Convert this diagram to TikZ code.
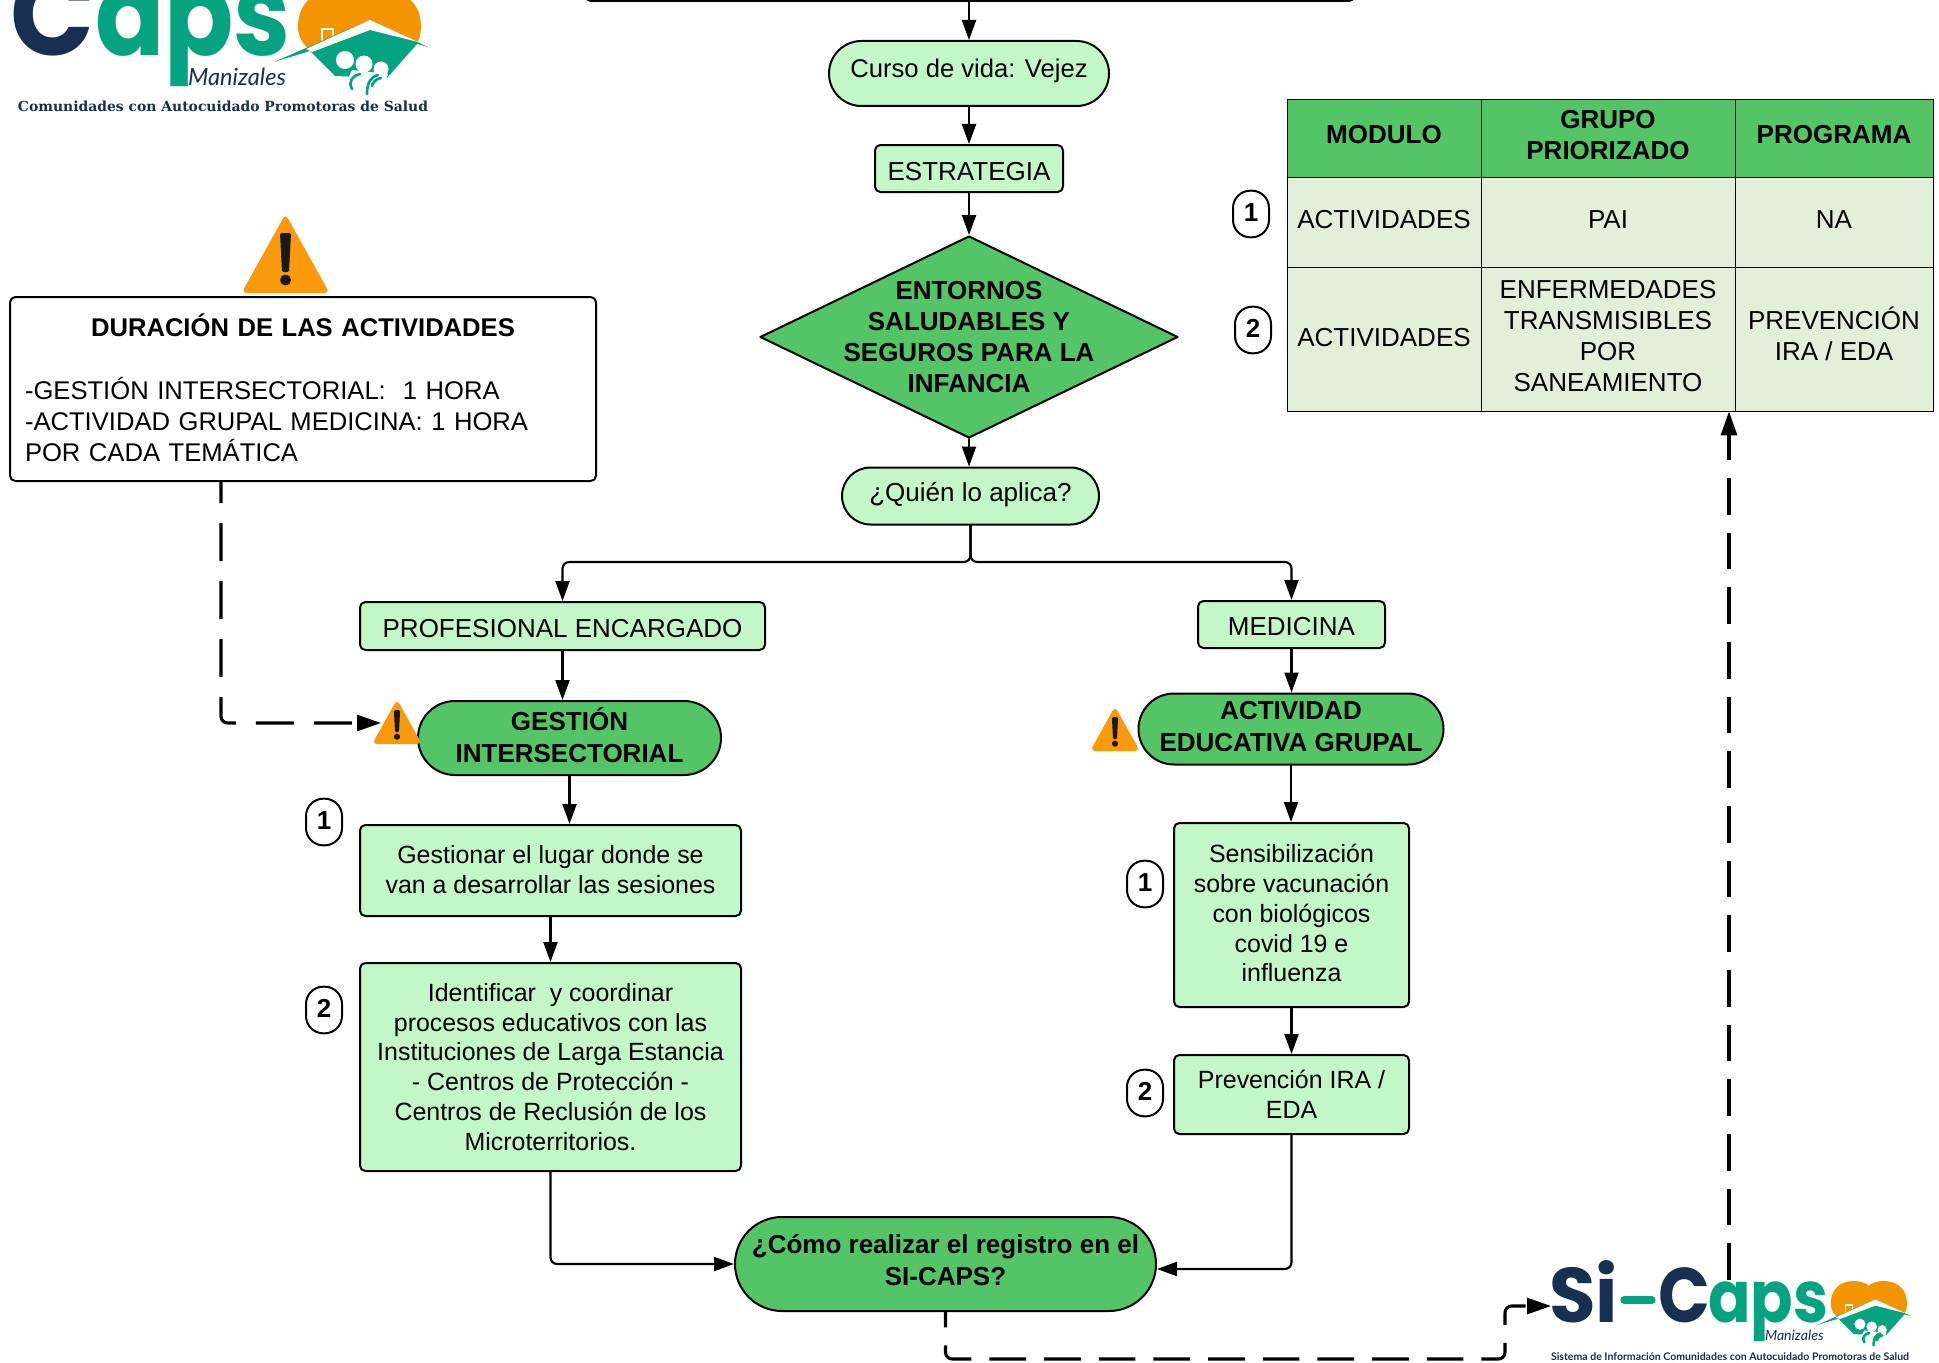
\documentclass[tikz,border=0pt]{standalone}
\usepackage{fontspec}
\setmainfont{Liberation Sans}
\newfontfamily\logofont{Poppins}
\newfontfamily\slabfont{DejaVu Serif}
\newfontfamily\tagfont{Lato}
\usetikzlibrary{arrows.meta,shapes.geometric,shapes.misc}
\definecolor{verdeclaro}{HTML}{C3F7C8}
\definecolor{verdemedio}{HTML}{54C566}
\definecolor{verdetabla}{HTML}{E2EFD9}
\definecolor{naranja}{HTML}{F99A0C}
\definecolor{logonaranja}{HTML}{F49400}
\definecolor{logoverde}{HTML}{05A37F}
\definecolor{logoazul}{HTML}{172F50}
\tikzset{
	texto/.style={font=\fontsize{19.5}{23.4}\selectfont,align=center,inner sep=0pt},
	textob/.style={font=\fontsize{19.5}{23.4}\selectfont\bfseries,align=center,inner sep=0pt},
	subir/.style={execute at end node={\rule[-#1]{0pt}{#1}}},
	bajar/.style={execute at begin node={\rule{0pt}{#1}}},
	caja/.style={texto,draw,line width=1.5pt,fill=verdeclaro,rounded corners=4pt},
	proceso/.style={caja,font=\fontsize{18.7}{22.4}\selectfont},
	pildora/.style={texto,draw,line width=1.5pt,fill=verdeclaro,rounded rectangle},
	pildorab/.style={pildora,textob,fill=verdemedio},
	celda/.style={texto,draw,line width=.6pt,fill=verdetabla},
	celdah/.style={celda,textob,fill=verdemedio},
	numero/.style={textob,subir=2pt,draw,line width=1.5pt,fill=white,rounded corners=13pt,minimum width=27pt,minimum height=35pt},
	logotxt/.style={inner sep=0pt,outer sep=0pt},
	flecha/.style={line width=1.6pt,-{Stealth[inset=0pt,length=15pt,width=10.5pt]},rounded corners=5pt},
	punteada/.style={line width=2.3pt,line cap=butt,-{Stealth[inset=0pt,length=18pt,width=12pt]},rounded corners=5pt,dash pattern=on 27.5pt off 13.5pt,dash phase=#1},
	warnsign/.pic={
		\fill[naranja,rounded corners=4pt] (-44,0)--(0,-79)--(44,0)--cycle;
		\fill[black!90,rounded corners=1pt] (-5.5,-60)--(5.5,-60)--(3.5,-21)--(-3.5,-21)--cycle;
		\fill[black!90] (0,-13) circle (5.5);
	},
	logoheart/.pic={
		\fill[logonaranja] (359,-2) .. controls (345,-15) and (298,-15) .. (298,27) .. controls (298,38) and (304,45) .. (310,50) -- (370,20) -- (417,43) .. controls (420,38) and (421,32) .. (421,27) .. controls (421,-15) and (373,-15) .. (359,-2) -- cycle;
		\fill[logoverde] (274,62)--(370,20)--(428,47)--(417,44)--(387,78)--(335,76)--(310,51)--cycle;
		\fill[white] (306,49)--(370,20)--(418,42)--(370,30)--(312,52)--cycle;
		\draw[white,line width=.8pt] (322,40)--(322,29)--(333,29)--(333,35);
		\fill[white] (345,60) circle (9) (364,64) circle (8.5) (381,69) circle (7.5);
		\fill[white] (352,70)--(388,74)--(380,96)--(340,96)--cycle;
		\draw[logoverde,line width=2pt] (352,89) .. controls (348,82) and (352,76) .. (360,74);
		\draw[logoverde,line width=2pt] (367,94) .. controls (367,84) and (370,77) .. (378,75);
		\draw[logoverde,line width=2pt] (381,78) .. controls (376,78) and (372,84) .. (372,86);
	}
}
\begin{document}
\begin{tikzpicture}[line cap=round,line join=round,x=.75pt,y=-.75pt]
	\clip (0,0) rectangle (1939,1363);
	% flujo central
	\node[caja,fill=white,minimum width=576.75pt,minimum height=22.5pt] (inicio) at (970,-14) {};
	\node[pildora,subir=8pt,font=\fontsize{19.2}{23.4}\selectfont,minimum width=210pt,minimum height=48.75pt] (curso) at (969,73.5) {Curso de vida: Vejez};
	\node[caja,bajar=18pt,minimum width=141pt,minimum height=35.25pt] (estrategia) at (969,168.5) {ESTRATEGIA};
	\node[diamond,draw,line width=1.5pt,fill=verdemedio,aspect=2.07,minimum width=313.5pt,minimum height=151.5pt,inner sep=0pt] (entornos) at (969,337) {};
	\node[textob] (entornostxt) at (entornos) {ENTORNOS\\SALUDABLES Y\\SEGUROS PARA LA\\INFANCIA};
	\node[pildora,subir=6pt,minimum width=192.75pt,minimum height=42.75pt] (quien) at (970.5,496) {¿Quién lo aplica?};
	\coordinate (split) at (970.5,562);
	% ramas
	\node[caja,bajar=18pt,minimum width=303.75pt,minimum height=36pt] (profesional) at (562.5,626) {PROFESIONAL ENCARGADO};
	\node[caja,bajar=16pt,minimum width=140.25pt,minimum height=35.25pt] (medicina) at (1291.5,624.5) {MEDICINA};
	\node[pildorab,subir=4.6pt,minimum width=227.25pt,minimum height=55.5pt] (gestion) at (569.5,738) {GESTIÓN\\INTERSECTORIAL};
	\node[pildorab,subir=3.8pt,minimum width=228.75pt,minimum height=53.25pt] (actividad) at (1291,729) {ACTIVIDAD\\EDUCATIVA GRUPAL};
	\node[proceso,subir=2pt,minimum width=285.75pt,minimum height=68.25pt] (gestionar) at (550.5,870.5) {Gestionar el lugar donde se\\van a desarrollar las sesiones};
	\node[proceso,bajar=16pt,minimum width=285.75pt,minimum height=156pt] (identificar) at (550.5,1067) {Identificar\ \ y coordinar\\procesos educativos con las\\Instituciones de Larga Estancia\\- Centros de Protección -\\Centros de Reclusión de los\\Microterritorios.};
	\node[proceso,subir=3pt,minimum width=176.25pt,minimum height=138pt] (sensibilizacion) at (1291.5,915) {Sensibilización\\sobre vacunación\\con biológicos\\covid 19 e\\influenza};
	\node[proceso,minimum width=176.25pt,minimum height=59.25pt] (prevencion) at (1291.5,1094.5) {Prevención IRA /\\EDA};
	\node[pildorab,subir=6pt,minimum width=315.75pt,minimum height=70.5pt] (registro) at (945.5,1264) {¿Cómo realizar el registro en el\\SI-CAPS?};
	% nota
	\node[texto,subir=2pt,font=\fontsize{19.2}{23.4}\selectfont,draw,line width=1.5pt,fill=white,rounded corners=4pt,minimum width=439.5pt,minimum height=138pt,text width=417pt,align=left] (nota) at (303,389) {\makebox[\linewidth][c]{\bfseries DURACIÓN DE LAS ACTIVIDADES}\\\mbox{}\\-GESTIÓN INTERSECTORIAL:\ \ 1 HORA\\-ACTIVIDAD GRUPAL MEDICINA: 1 HORA\\POR CADA TEMÁTICA};
	\coordinate (notapie) at (221,481);
	\coordinate (gestionin) at (381,723);
	% tabla
	\node[celdah,subir=5.6pt,minimum width=145.5pt,minimum height=58.5pt] (modulo) at (1384,138) {MODULO};
	\node[celdah,subir=4.6pt,minimum width=190.5pt,minimum height=58.5pt] (grupo) at (1608,138) {GRUPO\\PRIORIZADO};
	\node[celdah,subir=5.6pt,minimum width=148.5pt,minimum height=58.5pt] (programa) at (1834,138) {PROGRAMA};
	\node[celda,subir=3.8pt,minimum width=145.5pt,minimum height=67.5pt] (moduloa) at (1384,222) {ACTIVIDADES};
	\node[celda,subir=3.8pt,minimum width=190.5pt,minimum height=67.5pt] (grupoa) at (1608,222) {PAI};
	\node[celda,subir=3.8pt,minimum width=148.5pt,minimum height=67.5pt] (programaa) at (1834,222) {NA};
	\node[celda,subir=3pt,minimum width=145.5pt,minimum height=108pt] (modulob) at (1384,339) {ACTIVIDADES};
	\node[celda,subir=4.6pt,minimum width=190.5pt,minimum height=108pt] (grupob) at (1608,339) {ENFERMEDADES\\TRANSMISIBLES\\POR\\SANEAMIENTO};
	\node[celda,subir=7.4pt,minimum width=148.5pt,minimum height=108pt] (programab) at (1834,339) {PREVENCIÓN\\IRA / EDA};
	% numeros
	\foreach \nx/\ny/\nt in {1251/214/1,1253/330/2,324/822/1,324/1010/2,1145/884/1,1145/1093/2}
		\node[numero] (num\nx) at (\nx,\ny) {\nt};
	% conectores
	\draw[flecha] (inicio.south -| curso.north) -- (curso.north);
	\draw[flecha] (curso.south) -- (estrategia.north);
	\draw[flecha] (estrategia.south) -- (entornos.north);
	\draw[flecha] (entornos.south) -- (entornos.south |- quien.north);
	\draw[flecha] (quien.south) -- (split) -| (profesional.north);
	\draw[flecha] (quien.south) -- (split) -| (medicina.north);
	\draw[flecha] (profesional.south) -- (profesional.south |- gestion.north);
	\draw[flecha] (medicina.south) -- (medicina.south |- actividad.north);
	\draw[flecha] (gestion.south) -- (gestion.south |- gestionar.north);
	\draw[flecha] (gestionar.south) -- (identificar.north);
	\draw[flecha] (actividad.south) -- (actividad.south |- sensibilizacion.north);
	\draw[flecha] (sensibilizacion.south) -- (prevencion.north);
	\draw[flecha] (identificar.south) |- (registro.west);
	\draw[flecha] (prevencion.south) |- ([yshift=-3.75pt]registro.east);
	% punteadas
	\coordinate (regcodo) at (1505,1359);
	\coordinate (sicapsin) at (1551,1306);
	\coordinate (sicapspie) at (1729,1280);
	\draw[punteada=12pt,dash pattern=on 28.5pt off 15pt] (notapie) |- (gestionin);
	\draw[punteada=16pt] (registro.south) |- (regcodo) |- (sicapsin);
	\draw[punteada=0pt] (sicapspie) -- (sicapspie |- programab.south);
	% advertencias
	\pic at (285.5,293) {warnsign};
	\pic[scale=.565] at (397,744) {warnsign};
	\pic[scale=.565] at (1115,751) {warnsign};
	% logo superior
	\node[logotxt,anchor=base west,text=logoazul] (logoc) at (11,56) {\scalebox{.94}[1]{\logofont\bfseries\fontsize{88}{88}\selectfont C}};
	\node[logotxt,anchor=base west,text=logoverde] (logoaps) at (95,56) {\scalebox{.87}[1]{\logofont\bfseries\fontsize{88}{88}\selectfont aps}};
	\pic at (0,0) {logoheart};
	\node[logotxt,anchor=west,text=logoazul] (logomz) at (188,77) {\resizebox{73.5pt}{!}{\tagfont\itshape Manizales}};
	\node[logotxt,anchor=west,text=logoazul] (logotag) at (18,106) {\resizebox{307.5pt}{!}{\slabfont\bfseries Comunidades con Autocuidado Promotoras de Salud}};
	% logo inferior
	\node[logotxt,anchor=base west,text=logoazul] (sicapssi) at (1549,1322) {\scalebox{.98}[1]{\logofont\bfseries\fontsize{58}{58}\selectfont Si}};
	\draw[logoverde,line width=5.5pt] (1624,1300) -- (1652,1300);
	\node[logotxt,anchor=base west,text=logoazul] (sicapsc) at (1658,1322) {\scalebox{.88}[1]{\logofont\bfseries\fontsize{58}{58}\selectfont C}};
	\node[logotxt,anchor=base west,text=logoverde] (sicapsaps) at (1708,1322) {\scalebox{.87}[1]{\logofont\bfseries\fontsize{54}{54}\selectfont aps}};
	\pic[scale=.62] at (1646,1287) {logoheart};
	\node[logotxt,anchor=west,text=logoazul] (sicapsmz) at (1765,1335) {\resizebox{44pt}{!}{\tagfont\itshape Manizales}};
	\node[logotxt,anchor=west,text=logoazul] (sicapstag) at (1551,1357) {\resizebox{268.5pt}{!}{\tagfont\bfseries Sistema de Información Comunidades con Autocuidado Promotoras de Salud}};
\end{tikzpicture}
\end{document}
